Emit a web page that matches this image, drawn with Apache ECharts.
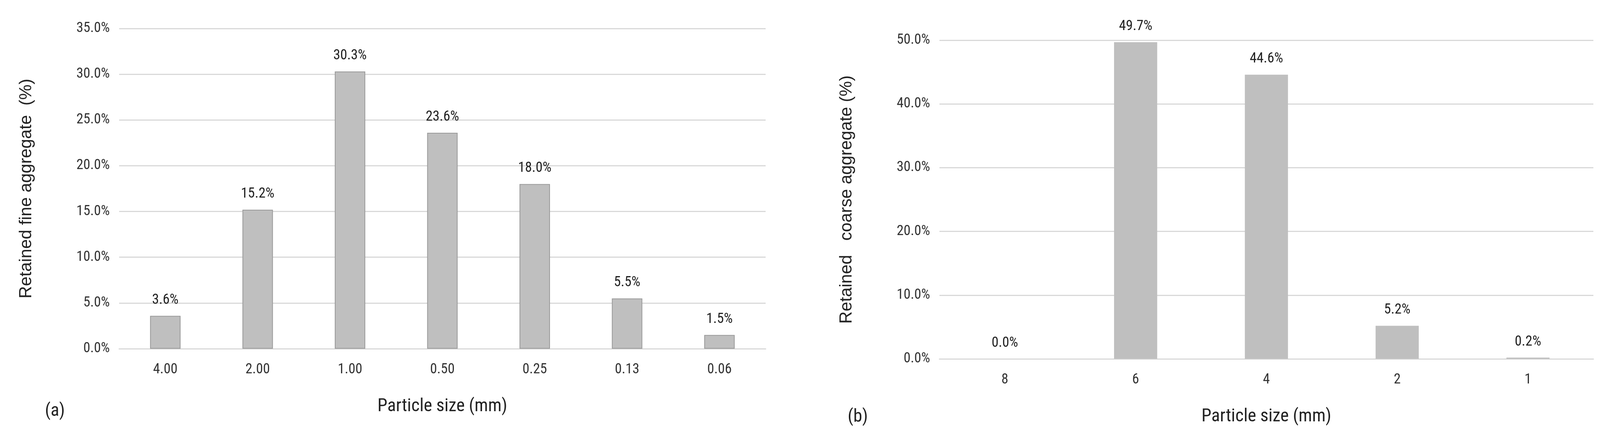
<!DOCTYPE html>
<html><head><meta charset="utf-8">
<script src="https://cdn.jsdelivr.net/npm/echarts@6/dist/echarts.min.js"></script>
<style>html,body{margin:0;background:#fff}#c{width:4139px;height:1137px}</style>
</head><body><div id="c"></div>
<script>
var fineSizes = ['4.00', '2.00', '1.00', '0.50', '0.25', '0.13', '0.06'];
var fineRetained = [3.6, 15.2, 30.3, 23.6, 18.0, 5.5, 1.5];
var coarseSizes = ['8', '6', '4', '2', '1'];
var coarseRetained = [0.0, 49.7, 44.6, 5.2, 0.2];

var narrow = '"Liberation Sans Narrow", "Roboto Condensed", "Liberation Sans", sans-serif';
var pct = function (v) { return v.toFixed(1) + '%'; };

function xAx(i, cats) {
    return {
        gridIndex: i, type: 'category', data: cats,
        axisLine: { lineStyle: { color: '#d9d9d9', width: 3 } },
        axisTick: { show: false },
        axisLabel: { fontFamily: narrow, fontSize: 36, color: '#333', margin: 36 },
        name: 'Particle size (mm)', nameLocation: 'middle', nameGap: 125,
        nameTextStyle: { fontFamily: narrow, fontSize: 46, color: '#222' }
    };
}
function yAx(i, max, step, title) {
    return {
        gridIndex: i, type: 'value', min: 0, max: max, interval: step,
        axisLine: { show: false }, axisTick: { show: false },
        splitLine: { lineStyle: { color: '#d9d9d9', width: 3 } },
        axisLabel: { fontFamily: narrow, fontSize: 36, color: '#333', margin: 24, formatter: pct },
        name: title, nameLocation: 'middle', nameGap: 215,
        nameTextStyle: { fontFamily: 'Liberation Sans, sans-serif', fontSize: 44, color: '#222' }
    };
}
function bars(i, vals, border) {
    return {
        type: 'bar', xAxisIndex: i, yAxisIndex: i, data: vals, barWidth: '33%',
        itemStyle: { color: '#bfbfbf', borderColor: border ? '#9a9a9a' : '#bfbfbf', borderWidth: border ? 2 : 0 },
        label: { show: true, position: 'top', distance: 22, formatter: function (p) { return pct(p.value); },
                 fontFamily: narrow, fontSize: 36, color: '#222' }
    };
}

echarts.init(document.getElementById('c')).setOption({
    animation: false,
    grid: [
        { left: 305, right: 4139 - 1960, top: 73, bottom: 1137 - 893 },
        { left: 2405, right: 4139 - 4079, top: 103, bottom: 1137 - 919 }
    ],
    xAxis: [xAx(0, fineSizes), xAx(1, coarseSizes)],
    yAxis: [yAx(0, 35, 5, 'Retained fine aggregate  (%)'), yAx(1, 50, 10, 'Retained   coarse aggregate (%)')],
    series: [bars(0, fineRetained, true), bars(1, coarseRetained, false)],
    graphic: [
        { type: 'text', left: 115, top: 1030, style: { text: '(a)', font: '46px ' + narrow, fill: '#222' } },
        { type: 'text', left: 2170, top: 1045, style: { text: '(b)', font: '46px ' + narrow, fill: '#222' } }
    ]
});
</script></body></html>
